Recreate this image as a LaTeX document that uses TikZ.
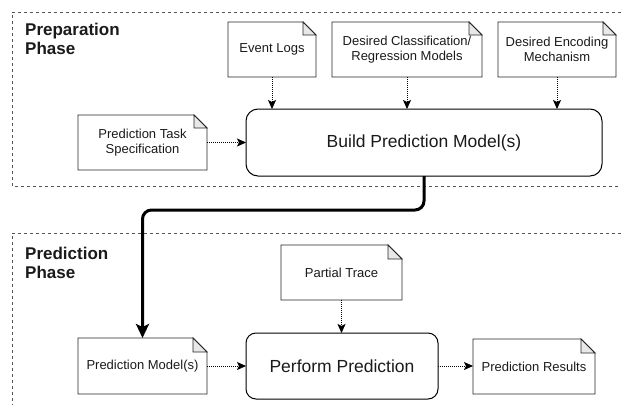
\documentclass[tikz,border=0pt]{standalone}
\usepackage{fontspec}
\setmainfont{Liberation Sans}
\usetikzlibrary{arrows.meta}
\definecolor{txt}{HTML}{1A1A1A}
\definecolor{frame}{HTML}{555555}
\definecolor{foldfill}{HTML}{E8E8E8}
\newcommand{\docshape}[2]{%
  \draw[docline] (#1.south west) -- (#1.north west) -- ([xshift=-#2pt]#1.north east)
    -- ([yshift=-#2pt]#1.north east) -- (#1.south east) -- cycle;
  \filldraw[docline, fill=foldfill] ([xshift=-#2pt]#1.north east) -- ([xshift=-#2pt,yshift=-#2pt]#1.north east)
    -- ([yshift=-#2pt]#1.north east) -- cycle;}
\tikzset{
  docnode/.style={draw=none, outer sep=0pt, inner sep=2pt, align=center,
    font=\fontsize{13}{15.5}\selectfont, text=txt, anchor=north west},
  docline/.style={draw=black!85, line width=0.9pt, line join=miter},
  procbox/.style={draw=black, line width=1pt, outer sep=0pt, anchor=north west,
    font=\fontsize{17.5}{20}\selectfont, text=txt},
  phaseframe/.style={draw=frame, line width=0.8pt, dash pattern=on 3pt off 3pt},
  phaselabel/.style={font=\bfseries\fontsize{17}{19}\selectfont, text=txt, align=left,
    anchor=base west, inner sep=0pt},
  flow/.style={draw=black, line width=0.8pt, dash pattern=on 1pt off 1pt,
    -{Stealth[length=9pt,width=8pt,inset=2pt]}},
  mainflow/.style={draw=black, line width=3pt, rounded corners=9pt,
    -{Stealth[length=14pt,width=13pt,inset=3pt]}}
}
\begin{document}
\begin{tikzpicture}[x=1pt,y=-1pt]
\useasboundingbox (0,0) rectangle (621,405);

% phase frames
\draw[phaseframe] (621,12) -- (12,12) -- (12,186) -- (621,186);
\draw[phaseframe] (621,233) -- (12,233) -- (12,405);
\node[phaselabel] (prepl) at (25,54) {Preparation\\Phase};
\node[phaselabel] (predl) at (25,278) {Prediction\\Phase};

% preparation phase
\node[docnode, minimum width=88pt, minimum height=55pt] (el) at (228,22) {Event Logs};
\node[docnode, minimum width=150pt, minimum height=55pt] (dc) at (332,22) {Desired Classification/\\Regression Models};
\node[docnode, minimum width=118pt, minimum height=55pt] (de) at (498,22) {Desired Encoding\\Mechanism};
\node[docnode, minimum width=129pt, minimum height=55pt] (pts) at (78,115) {Prediction Task\\Specification};
\node[procbox, rounded corners=12pt, minimum width=356pt, minimum height=67pt] (build) at (246,109) {Build Prediction Model(s)};
\docshape{el}{13}
\docshape{dc}{13}
\docshape{de}{13}
\docshape{pts}{13}

\draw[flow] (el.south) -- (el.south |- build.north);
\draw[flow] (dc.south) -- (dc.south |- build.north);
\draw[flow] (de.south) -- (de.south |- build.north);
\draw[flow] (pts.east) -- (build.west |- pts.east);

% prediction phase
\node[docnode, minimum width=121pt, minimum height=55pt] (pt) at (281,245) {Partial Trace};
\node[docnode, minimum width=129pt, minimum height=56pt] (pm) at (78,338) {Prediction Model(s)};
\node[procbox, rounded corners=10pt, minimum width=192pt, minimum height=66pt] (perf) at (246,333) {Perform Prediction};
\node[docnode, minimum width=122pt, minimum height=55pt] (res) at (473,339) {Prediction Results};
\docshape{pt}{14}
\docshape{pm}{14}
\docshape{res}{14}

\draw[flow] (pt.south) -- (pt.south |- perf.north);
\draw[flow] (pm.east) -- (perf.west |- pm.east);
\draw[flow] (perf.east) -- (res.west |- perf.east);

\draw[mainflow] (build.south) -- ++(0,34) -| (pm.north);
\end{tikzpicture}
\end{document}
